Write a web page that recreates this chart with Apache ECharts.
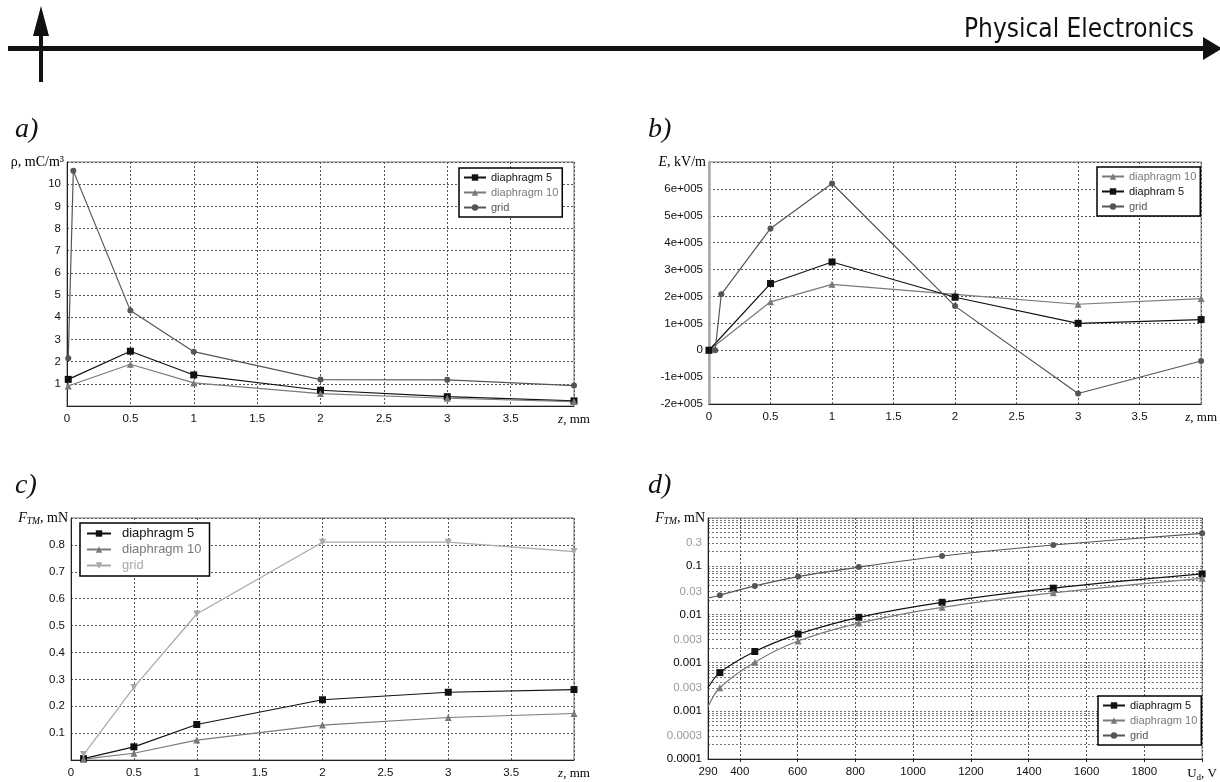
<!DOCTYPE html>
<html>
<head>
<meta charset="utf-8">
<script src="https://cdn.jsdelivr.net/npm/echarts/dist/echarts.min.js"></script>
<style>
html, body { margin: 0; padding: 0; background: #fff; }
#main { width: 1220px; height: 782px; }
</style>
</head>
<body>
<div id="main"></div>
<script>
// a) space charge density, mC/m3 vs z, mm
var aZ = [0.01, 0.5, 1, 2, 3, 4];
var aDiaph5 = [1.2, 2.47, 1.4, 0.71, 0.42, 0.23];
var aDiaph10 = [0.9, 1.88, 1.04, 0.56, 0.35, 0.2];
var aGridZ = [0.01, 0.05, 0.5, 1, 2, 3, 4];
var aGrid = [2.15, 10.6, 4.3, 2.45, 1.19, 1.18, 0.92];

// b) field strength vs z
var bZ = [0, 0.5, 1, 2, 3, 4];
var bDiaph10 = [0, 180000, 245000, 208000, 171000, 192000];
var bDiaph5 = [0, 248000, 328000, 197000, 100000, 114000];
var bGridZ = [0.05, 0.1, 0.5, 1, 2, 3, 4];
var bGrid = [0, 208000, 453000, 620000, 164000, -161000, -40000];

// c) force vs z
var cZ = [0.1, 0.5, 1, 2, 3, 4];
var cDiaph5 = [0.005, 0.049, 0.132, 0.224, 0.252, 0.262];
var cDiaph10 = [0.003, 0.025, 0.074, 0.13, 0.158, 0.173];
var cGrid = [0.02, 0.27, 0.543, 0.81, 0.81, 0.775];

// d) force vs discharge voltage (first point = curve start, no marker)
var dU = [290, 331, 452, 602, 812, 1100, 1485, 2000];
var dDiaph5 = [0.0003, 0.00062, 0.0017, 0.0039, 0.0087, 0.0178, 0.035, 0.069];
var dDiaph10 = [0.00012, 0.0003, 0.00102, 0.0028, 0.0066, 0.014, 0.028, 0.056];
var dGrid = [0.022, 0.025, 0.039, 0.061, 0.096, 0.163, 0.275, 0.48];

// tick labels of d) as printed in the figure
var dYTickVals = [1e-5, 3e-5, 1e-4, 3e-4, 1e-3, 3e-3, 1e-2, 3e-2, 1e-1, 3e-1];
var dYTickText = ['0.0001', '0.0003', '0.001', '0.003', '0.001', '0.003', '0.01', '0.03', '0.1', '0.3'];
var dXTicks = [290, 400, 600, 800, 1000, 1200, 1400, 1600, 1800, 2000];

var dMinor = [];
[1e-5, 1e-4, 1e-3, 1e-2, 1e-1].forEach(function (d) {
    for (var k = 1; k < 10; k++) dMinor.push(+(d * k).toPrecision(3));
});
dMinor.push(1);

var tickFont = 'Liberation Sans';
var serif = 'Liberation Serif';
var labelRich = {
    i: { fontFamily: serif, fontStyle: 'italic', fontSize: 13, color: '#000' },
    s: { fontFamily: serif, fontSize: 13, color: '#000' },
    sub: { fontFamily: serif, fontSize: 9, color: '#000', padding: [7, 0, 0, 0] }
};
var nameRich = {
    i: { fontFamily: serif, fontStyle: 'italic', fontSize: 14, color: '#000' },
    s: { fontFamily: serif, fontSize: 14, color: '#000' },
    si: { fontFamily: serif, fontStyle: 'italic', fontSize: 9.5, color: '#000', padding: [6, 0, 0, 0] }
};
var dotted = { type: [2, 2], color: '#555', width: 1 };

function zAxis(idx) {
    return {
        type: 'value', gridIndex: idx, min: 0, max: 4, interval: 0.5,
        axisLine: { onZero: false, lineStyle: { color: '#222' } },
        axisTick: { show: false },
        splitLine: { lineStyle: dotted },
        axisLabel: {
            fontFamily: tickFont, fontSize: 11.5, color: '#111', margin: 7, rich: labelRich,
            formatter: function (v) { return v === 4 ? '{i|z}{s|, mm}' : String(v); }
        }
    };
}

function yAxis(idx, min, max, step, fmt, name, extra) {
    var ax = {
        type: 'value', gridIndex: idx, min: min, max: max, interval: step,
        name: name, nameLocation: 'end', nameGap: 0,
        nameTextStyle: { align: 'right', verticalAlign: 'middle', padding: [0, 3, 0, 0], rich: nameRich },
        axisLine: { lineStyle: { color: '#222' } },
        axisTick: { show: false },
        splitLine: { lineStyle: dotted },
        axisLabel: { fontFamily: tickFont, fontSize: 11.5, color: '#111', margin: 6, formatter: fmt }
    };
    if (extra) Object.keys(extra).forEach(function (k) { ax[k] = extra[k]; });
    return ax;
}

function line(name, xs, ys, color, symbol, idx, opt) {
    opt = opt || {};
    var data = xs.map(function (x, i) {
        if (opt.noFirst && i === 0) return { value: [x, ys[i]], symbol: 'none' };
        return [x, ys[i]];
    });
    return {
        type: 'line', name: name, xAxisIndex: idx, yAxisIndex: idx, data: data,
        symbol: symbol, symbolSize: opt.size || 7, symbolRotate: opt.rotate || 0,
        smooth: opt.smooth || false, color: color, animation: false,
        lineStyle: { color: color, width: 1.2 }, itemStyle: { color: color }
    };
}

function legend(left, top, items, o) {
    o = o || {};
    return {
        orient: 'vertical', left: left, top: top, itemWidth: o.iw || 22, itemHeight: 8, itemGap: o.gap || 4,
        padding: o.pad || [4, 4, 4, 4], borderColor: '#000', borderWidth: 1.5, backgroundColor: '#fff',
        textStyle: { fontFamily: 'Liberation Sans', fontSize: o.fs || 11, padding: o.tpad || 0 },
        formatter: function (n) { return n.split('#')[0]; },
        data: items.map(function (it) { return { name: it[0], textStyle: { color: it[1] } }; })
    };
}

var blk = '#111', gry = '#7a7a7a', dgr = '#555', lgr = '#a8a8a8';

var option = {
    backgroundColor: '#fff',
    animation: false,
    grid: [
        { left: 67, top: 162, width: 507, height: 244, show: true, borderColor: '#777', borderWidth: 1 },
        { left: 709, top: 162, width: 496, height: 242, show: true, borderColor: '#777', borderWidth: 1 },
        { left: 71, top: 518, width: 503, height: 242, show: true, borderColor: '#777', borderWidth: 1 },
        { left: 708, top: 518, width: 497, height: 241, show: true, borderColor: '#777', borderWidth: 1 }
    ],
    xAxis: [
        zAxis(0), zAxis(1), zAxis(2),
        {
            type: 'value', gridIndex: 3, min: 290, max: 2000,
            axisLine: { onZero: false, lineStyle: { color: '#222' } },
            axisTick: { show: true, length: 3, customValues: dXTicks.slice(1), lineStyle: { color: '#222' } },
            splitLine: { lineStyle: dotted },
            axisLabel: {
                customValues: dXTicks, fontFamily: tickFont, fontSize: 11.5, color: '#111', margin: 7, rich: labelRich,
                formatter: function (v) { return v === 2000 ? '{s|U}{sub|d}{s|, V}' : String(v); }
            }
        }
    ],
    yAxis: [
        yAxis(0, 0, 11, 1, function (v) { return (v === 0 || v === 11) ? '' : String(v); },
            '{s|ρ, mC/m³}'),
        yAxis(1, -200000, 700000, 100000, function (v) {
            var k = Math.round(v / 100000);
            if (k === 7) return '';
            return k === 0 ? '0' : k + 'e+005';
        }, '{i|E}{s|, kV/m}', { axisLine: { onZero: false, lineStyle: { color: '#aaa', width: 2.5 } } }),
        yAxis(2, 0, 0.9, 0.1, function (v) { return (v < 0.05 || v > 0.85) ? '' : v.toFixed(1); },
            '{i|F}{si|TM}{s|, mN}'),
        {
            type: 'log', gridIndex: 3, logBase: 10, min: 1e-5, max: 1,
            name: '{i|F}{si|TM}{s|, mN}', nameLocation: 'end', nameGap: 0,
            nameTextStyle: { align: 'right', verticalAlign: 'middle', padding: [0, 3, 0, 0], rich: nameRich },
            axisLine: { lineStyle: { color: '#222' } },
            axisTick: { show: false, customValues: dMinor },
            splitLine: { lineStyle: { type: [2, 2], color: '#777', width: 1 } },
            axisLabel: {
                customValues: dYTickVals, fontFamily: tickFont, fontSize: 11.5, margin: 6,
                formatter: function (v) {
                    var lv = Math.log10(+v);
                    for (var i = 0; i < dYTickVals.length; i++) {
                        if (Math.abs(Math.log10(dYTickVals[i]) - lv) < 1e-4) return dYTickText[i];
                    }
                    return '';
                },
                color: function (v) {
                    var lv = Math.log10(+v);
                    return Math.abs(lv - Math.round(lv)) < 0.01 ? '#000' : '#999';
                }
            }
        }
    ],
    legend: [
        legend(459, 168, [['diaphragm 5#a', blk], ['diaphragm 10#a', gry], ['grid#a', dgr]]),
        legend(1097, 167, [['diaphragm 10#b', gry], ['diaphram 5#b', blk], ['grid#b', dgr]]),
        legend(80, 523, [['diaphragm 5#c', blk], ['diaphragm 10#c', gry], ['grid#c', lgr]],
            { iw: 24, fs: 13, gap: 3, pad: [4, 8, 4, 6], tpad: [0, 0, 0, 6] }),
        legend(1098, 696, [['diaphragm 5#d', blk], ['diaphragm 10#d', gry], ['grid#d', dgr]])
    ],
    series: [
        line('diaphragm 5#a', aZ, aDiaph5, blk, 'rect', 0),
        line('diaphragm 10#a', aZ, aDiaph10, gry, 'triangle', 0),
        line('grid#a', aGridZ, aGrid, dgr, 'circle', 0, { size: 6 }),

        line('diaphragm 10#b', bZ, bDiaph10, gry, 'triangle', 1),
        line('diaphram 5#b', bZ, bDiaph5, blk, 'rect', 1),
        line('grid#b', bGridZ, bGrid, dgr, 'circle', 1, { size: 6 }),

        line('diaphragm 5#c', cZ, cDiaph5, blk, 'rect', 2),
        line('diaphragm 10#c', cZ, cDiaph10, gry, 'triangle', 2),
        line('grid#c', cZ, cGrid, lgr, 'triangle', 2, { rotate: 180 }),

        line('diaphragm 5#d', dU, dDiaph5, blk, 'rect', 3, { noFirst: true, smooth: 0.35 }),
        line('diaphragm 10#d', dU, dDiaph10, gry, 'triangle', 3, { noFirst: true, smooth: 0.35 }),
        line('grid#d', dU, dGrid, dgr, 'circle', 3, { noFirst: true, smooth: 0.35, size: 6 })
    ],
    graphic: [
        { type: 'rect', shape: { x: 8, y: 46, width: 1200, height: 5 }, style: { fill: '#111' } },
        { type: 'polygon', shape: { points: [[1203, 37], [1222, 48.5], [1203, 60]] }, style: { fill: '#111' } },
        { type: 'rect', shape: { x: 39, y: 30, width: 4, height: 52 }, style: { fill: '#111' } },
        { type: 'polygon', shape: { points: [[33, 36], [41, 6], [49, 36]] }, style: { fill: '#111' } },
        { type: 'text', style: { text: 'Physical Electronics', x: 1194, y: 30, align: 'right', verticalAlign: 'middle',
            font: '26px "DejaVu Sans Condensed", "DejaVu Sans"', fill: '#111' } },
        { type: 'text', style: { text: 'a)', x: 15, y: 130, verticalAlign: 'middle', font: 'italic 28px "Liberation Serif"', fill: '#111' } },
        { type: 'text', style: { text: 'b)', x: 648, y: 130, verticalAlign: 'middle', font: 'italic 28px "Liberation Serif"', fill: '#111' } },
        { type: 'text', style: { text: 'c)', x: 15, y: 486, verticalAlign: 'middle', font: 'italic 28px "Liberation Serif"', fill: '#111' } },
        { type: 'text', style: { text: 'd)', x: 648, y: 486, verticalAlign: 'middle', font: 'italic 28px "Liberation Serif"', fill: '#111' } }
    ]
};

var chart = echarts.init(document.getElementById('main'));
chart.setOption(option);
</script>
</body>
</html>
